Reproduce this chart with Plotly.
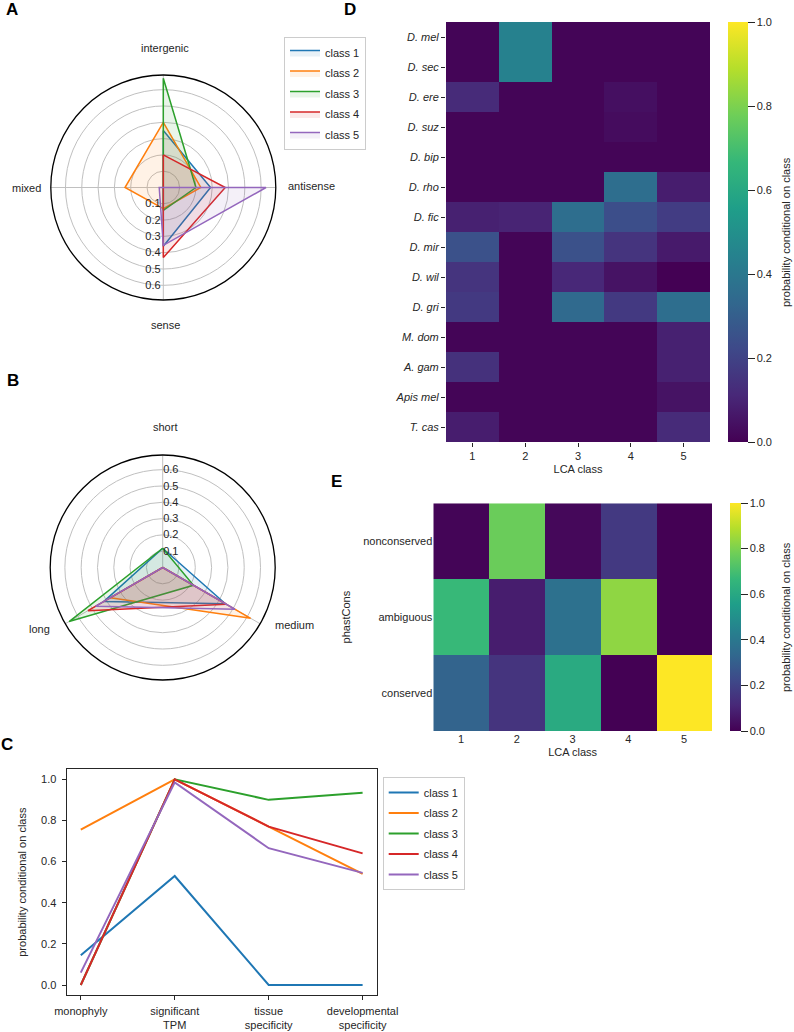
import plotly.graph_objects as go

W, H = 794, 1032
FONT = "Liberation Sans"
TXT = "#262626"

class_names = ["class 1", "class 2", "class 3", "class 4", "class 5"]
colors = ["#1f77b4", "#ff7f0e", "#2ca02c", "#d62728", "#9467bd"]
fills = ["rgba(31,119,180,0.1)", "rgba(255,127,14,0.1)", "rgba(44,160,44,0.1)",
         "rgba(214,39,40,0.1)", "rgba(148,103,189,0.1)"]

# Panel A: genomic context
a_cats = ["intergenic", "antisense", "sense", "mixed"]
a_class1 = [0.35, 0.29, 0.36, 0.0]
a_class2 = [0.40, 0.23, 0.13, 0.235]
a_class3 = [0.67, 0.20, 0.14, 0.0]
a_class4 = [0.20, 0.38, 0.43, 0.0]
a_class5 = [0.0, 0.63, 0.355, 0.025]
a_vals = [a_class1, a_class2, a_class3, a_class4, a_class5]

# Panel B: length
b_cats = ["short", "medium", "long"]
b_class1 = [0.118, 0.444, 0.418]
b_class2 = [0.0, 0.623, 0.372]
b_class3 = [0.118, 0.218, 0.663]
b_class4 = [0.0, 0.45, 0.529]
b_class5 = [0.0, 0.512, 0.475]
b_vals = [b_class1, b_class2, b_class3, b_class4, b_class5]

radial_ticks = [0.1, 0.2, 0.3, 0.4, 0.5, 0.6]

# Panel C
c_cats = ["monophyly", "significant<br>TPM", "tissue<br>specificity", "developmental<br>specificity"]
c_class1 = [0.145, 0.53, 0.0, 0.0]
c_class2 = [0.755, 1.0, 0.77, 0.54]
c_class3 = [0.0, 1.0, 0.90, 0.935]
c_class4 = [0.0, 1.0, 0.77, 0.64]
c_class5 = [0.06, 0.985, 0.665, 0.545]
c_vals = [c_class1, c_class2, c_class3, c_class4, c_class5]

# Panel D
lca_classes = [1, 2, 3, 4, 5]
species = ["D. mel", "D. sec", "D. ere", "D. suz", "D. bip", "D. rho", "D. fic",
           "D. mir", "D. wil", "D. gri", "M. dom", "A. gam", "Apis mel", "T. cas"]
d_z = [
    [0.01, 0.44, 0.01, 0.01, 0.01],
    [0.01, 0.44, 0.01, 0.01, 0.01],
    [0.12, 0.01, 0.01, 0.04, 0.01],
    [0.01, 0.01, 0.01, 0.03, 0.01],
    [0.01, 0.01, 0.01, 0.01, 0.01],
    [0.01, 0.01, 0.01, 0.36, 0.08],
    [0.09, 0.10, 0.36, 0.24, 0.18],
    [0.25, 0.01, 0.25, 0.15, 0.07],
    [0.15, 0.01, 0.11, 0.05, 0.0],
    [0.17, 0.01, 0.34, 0.17, 0.36],
    [0.01, 0.01, 0.01, 0.01, 0.09],
    [0.14, 0.01, 0.01, 0.01, 0.09],
    [0.01, 0.01, 0.01, 0.01, 0.05],
    [0.08, 0.01, 0.01, 0.01, 0.12],
]

# Panel E
phast = ["nonconserved", "ambiguous", "conserved"]
e_z = [
    [0.01, 0.77, 0.02, 0.17, 0.0],
    [0.67, 0.08, 0.37, 0.83, 0.0],
    [0.32, 0.15, 0.61, 0.0, 1.0],
]
cbar_ticks = [0.0, 0.2, 0.4, 0.6, 0.8, 1.0]
cbar_title = "probability conditional on class"


def px(x):
    return x / W


def py(y):
    return 1 - y / H


fig = go.Figure()

for i in range(5):
    fig.add_trace(go.Scatterpolar(
        r=a_vals[i] + [a_vals[i][0]], theta=a_cats + [a_cats[0]],
        mode="lines", line=dict(color=colors[i], width=1.5),
        fill="toself", fillcolor=fills[i], name=class_names[i],
        legendgroup="a%d" % i, subplot="polar", legend="legend", showlegend=True))

for i in range(5):
    fig.add_trace(go.Scatterpolar(
        r=b_vals[i] + [b_vals[i][0]], theta=b_cats + [b_cats[0]],
        mode="lines", line=dict(color=colors[i], width=1.5),
        fill="toself", fillcolor=fills[i], name=class_names[i],
        subplot="polar2", showlegend=False))

for i in range(5):
    fig.add_trace(go.Scatter(
        x=c_cats, y=c_vals[i], mode="lines", line=dict(color=colors[i], width=2),
        name=class_names[i], legendgroup="c%d" % i,
        xaxis="x", yaxis="y", legend="legend2"))


def cbar(x_left, y_mid, length, thick):
    return dict(x=px(x_left), xanchor="left", y=py(y_mid), yanchor="middle",
                len=length / H, thickness=thick, outlinewidth=0, xpad=0, ypad=0,
                tickvals=cbar_ticks, tickformat=".1f", ticks="outside", ticklen=7,
                tickcolor=TXT, tickfont=dict(size=11, color=TXT))


fig.add_trace(go.Heatmap(
    z=d_z, x=lca_classes, y=species, xaxis="x2", yaxis="y2",
    colorscale="Viridis", zmin=0, zmax=1, showscale=True,
    colorbar=cbar(727.5, 232, 420, 20)))

fig.add_trace(go.Heatmap(
    z=e_z, x=lca_classes, y=phast, xaxis="x3", yaxis="y3",
    colorscale="Viridis", zmin=0, zmax=1, showscale=True,
    colorbar=cbar(730, 617, 228, 11)))


def polar_layout(cx, cy, rad, axis_angle, tick_angle, side):
    return dict(
        domain=dict(x=[px(cx - rad), px(cx + rad)], y=[py(cy + rad), py(cy - rad)]),
        bgcolor="white",
        radialaxis=dict(range=[0, 0.69], tickvals=radial_ticks, tickformat=".1f",
                        angle=axis_angle, tickangle=tick_angle, side=side,
                        showline=False, ticks="", gridcolor="#c0c0c0", gridwidth=1,
                        tickfont=dict(size=11, color=TXT)),
        angularaxis=dict(rotation=90, direction="clockwise", showticklabels=False,
                         ticks="", showline=True, linecolor="black", linewidth=1.3,
                         gridcolor="#c0c0c0", gridwidth=1),
    )


axis_common = dict(showline=True, linecolor=TXT, linewidth=1.2, mirror=True,
                   ticks="outside", ticklen=4, tickcolor=TXT, zeroline=False,
                   showgrid=False, automargin=False, tickfont=dict(size=11, color=TXT))

fig.update_layout(
    width=W, height=H, margin=dict(l=0, r=0, t=0, b=0, autoexpand=False),
    paper_bgcolor="white", plot_bgcolor="white",
    font=dict(family=FONT, size=11, color=TXT),
    polar=polar_layout(163.3, 187.5, 112.5, 270, -90, "clockwise"),
    polar2=polar_layout(162.7, 567.5, 112.5, 90, 90, "clockwise"),
    xaxis=dict(domain=[px(66.7), px(376.7)], anchor="y", type="category",
               range=[-0.15, 3.15], ticklabelstandoff=1, **axis_common),
    yaxis=dict(domain=[py(995.3), py(769)], anchor="x", range=[-0.05, 1.05],
               tickvals=[0, 0.2, 0.4, 0.6, 0.8, 1.0], tickformat=".1f",
               ticklabelstandoff=3,
               title=dict(text="probability conditional on class", font=dict(size=11),
                          standoff=12),
               **axis_common),
    xaxis2=dict(domain=[px(446), px(710)], anchor="y2", tickvals=lca_classes,
                ticks="outside", ticklen=4, tickcolor=TXT, showline=False,
                showgrid=False, zeroline=False, automargin=False,
                title=dict(text="LCA class", font=dict(size=11), standoff=4)),
    yaxis2=dict(domain=[py(442), py(22)], anchor="x2", autorange="reversed",
                tickvals=species, ticktext=["<i>" + s + "</i>" for s in species],
                ticks="outside", ticklen=4, tickcolor=TXT, showline=False,
                showgrid=False, zeroline=False, automargin=False),
    xaxis3=dict(domain=[px(433.3), px(712)], anchor="y3", tickvals=lca_classes,
                ticks="", showline=False, showgrid=False, zeroline=False,
                automargin=False,
                title=dict(text="LCA class", font=dict(size=11), standoff=4)),
    yaxis3=dict(domain=[py(731), py(503.3)], anchor="x3", autorange="reversed",
                ticks="", showline=False, showgrid=False, zeroline=False,
                automargin=False,
                title=dict(text="phastCons", font=dict(size=11), standoff=10)),
    legend=dict(x=px(284), y=py(37), xanchor="left", yanchor="top",
                bordercolor="#cccccc", borderwidth=1, bgcolor="white",
                tracegroupgap=1.5, font=dict(size=11, color=TXT)),
    legend2=dict(x=px(382.7), y=py(777), xanchor="left", yanchor="top",
                 bordercolor="#cccccc", borderwidth=1, bgcolor="white",
                 tracegroupgap=1.5, font=dict(size=11, color=TXT)),
)

ann = []
# panel letters
for letter, x, y in [("A", 12, 9.5), ("B", 13, 380), ("C", 7, 744),
                     ("D", 350, 9.5), ("E", 336, 482)]:
    ann.append(dict(text="<b>" + letter + "</b>", x=px(x), y=py(y), xref="paper", yref="paper",
                    showarrow=False, font=dict(size=17, color="black"),
                    xanchor="center", yanchor="middle"))
# radar category labels
for t, x, y in [("intergenic", 165, 48.3), ("antisense", 311.7, 186), ("sense", 165, 325),
                ("mixed", 26.7, 188), ("short", 165, 427.3), ("long", 39.3, 629),
                ("medium", 294.3, 625.3)]:
    ann.append(dict(text=t, x=px(x), y=py(y), xref="paper", yref="paper",
                    showarrow=False, font=dict(size=11, color=TXT),
                    xanchor="center", yanchor="middle"))
# colorbar titles
for y in [232, 617]:
    ann.append(dict(text=cbar_title, x=px(786), y=py(y), xref="paper", yref="paper",
                    showarrow=False, textangle=-90, font=dict(size=11, color=TXT),
                    xanchor="center", yanchor="middle"))
fig.update_layout(annotations=ann)

fig.write_html("out.html", config={"displayModeBar": False},
               post_script="document.body.style.margin='0px';document.body.style.padding='0px';")
